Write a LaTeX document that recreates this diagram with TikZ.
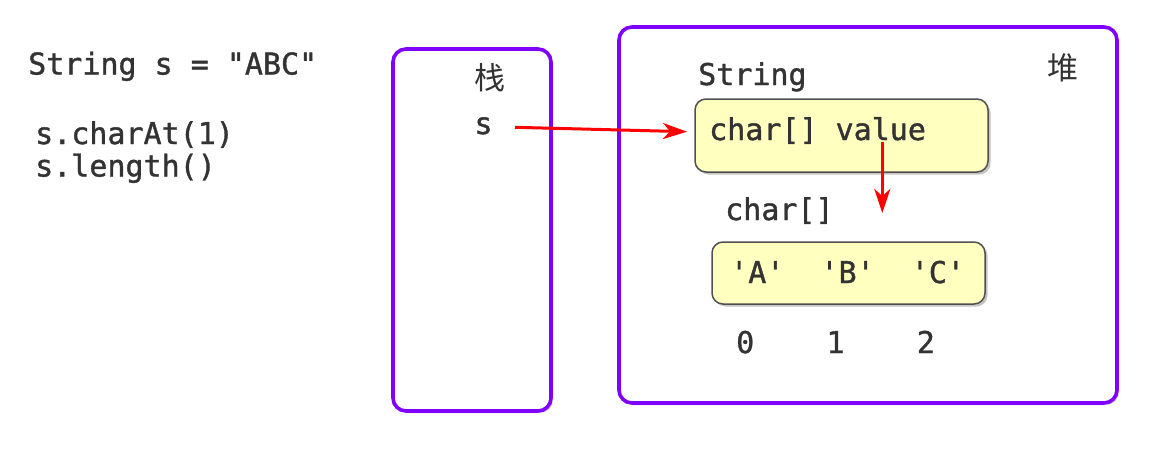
\documentclass[tikz,border=0pt]{standalone}
\usepackage{fontspec}
\newfontfamily\codefont[FakeBold=1.2]{DejaVu Sans Mono}
\newfontfamily\cjk{Noto Sans CJK SC}
\usetikzlibrary{shadows,arrows.meta}
\definecolor{txt}{HTML}{333333}
\definecolor{purp}{HTML}{8000FF}
\definecolor{yel}{HTML}{FFFFC0}
\definecolor{bord}{HTML}{505050}
\tikzset{
  code/.style={inner sep=0pt, text=txt, font=\codefont\fontsize{30}{36}\selectfont},
  hanzi/.style={inner sep=0pt, text=txt, font=\cjk\fontsize{31}{36}\selectfont},
  frame/.style={draw=purp, line width=3.6pt, rounded corners=13pt, fill=white,
    drop shadow={shadow xshift=2pt, shadow yshift=-2pt, opacity=0.35, fill=gray}},
  cell/.style={draw=bord, line width=1.5pt, fill=yel, rounded corners=11pt,
    drop shadow={shadow xshift=2.5pt, shadow yshift=-2.5pt, opacity=0.45, fill=gray}},
  arr/.style={draw=red, line width=3pt, -{Stealth[length=24pt, width=16pt, inset=7pt]}},
}
\begin{document}
\begin{tikzpicture}[x=1pt, y=-1pt]
\useasboundingbox[fill=white] (0,0) rectangle (1172,461);
% frames
\draw[frame] (393,49) rectangle (551,411);
\draw[frame] (619,27) rectangle (1117,403);
\coordinate (stackbox) at (472,230);
% yellow boxes
\node[cell, minimum width=293pt, minimum height=73pt, inner sep=0pt] (val) at (841.5,135.5) {};
\node[cell, minimum width=273pt, minimum height=62pt, inner sep=0pt] (arr) at (848.5,273) {};
% left code
\node[code, anchor=base west] (decl) at (28,74.5) {String s = "ABC"};
\node[code, anchor=base west] (charat) at (35,144) {s.charAt(1)};
\node[code, anchor=base west] (len) at (35,176.5) {s.length()};
% stack
\node[hanzi] (zhan) at (490,78) {栈};
\node[code, anchor=base] (s) at (483.5,134) {s};
% heap
\node[hanzi] (dui) at (1063,68) {堆};
\node[code, anchor=base west] (strlbl) at (698,85) {String};
\node[code, anchor=base west] (valtxt) at (709,140) {char[] value};
\node[code, anchor=base west] (chlbl) at (725,220) {char[]};
\node[code, anchor=base west] (abc) at (730,283) {'A'\ \ 'B'\ \ 'C'};
\node[code, anchor=base west] (idx) at (736,353) {0\ \ \ \ 1\ \ \ \ 2};
% arrows
\coordinate (sfrom) at (515,127.3);
\coordinate (sto) at (687,131.7);
\coordinate (vfrom) at (882.3,142);
\coordinate (vto) at (882.3,213);
\draw[arr] (sfrom) -- (sto);
\draw[arr] (vfrom) -- (vto);
\end{tikzpicture}
\end{document}
